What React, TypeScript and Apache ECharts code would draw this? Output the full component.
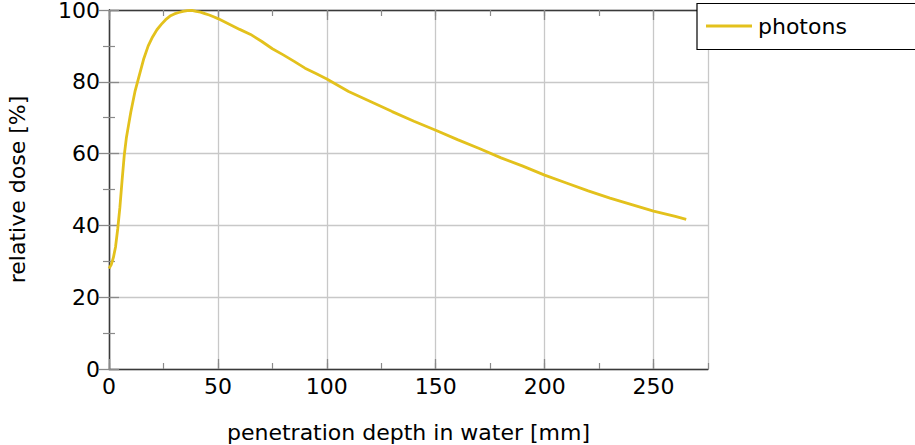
import React, { useEffect, useRef } from "react";
import * as echarts from "echarts";

const depth = [0, 1, 2, 3, 4, 5, 6, 7, 8, 9, 10, 12, 14, 16, 18, 20, 22, 24, 26, 28, 30, 32, 34, 36, 38, 40, 42, 44, 46, 48, 50, 55, 60, 65, 70, 75, 80, 85, 90, 95, 100, 110, 120, 130, 140, 150, 160, 170, 180, 190, 200, 210, 220, 230, 240, 250, 260, 265];
const dose = [28, 29, 31, 34, 39, 45, 52.5, 59.5, 64.5, 68, 71.5, 77.5, 82, 86.5, 90, 92.5, 94.5, 96, 97.3, 98.3, 98.9, 99.3, 99.6, 99.8, 99.9, 99.6, 99.4, 99.0, 98.6, 98.1, 97.6, 96.1, 94.6, 93.2, 91.3, 89.2, 87.5, 85.7, 83.8, 82.3, 80.8, 77.3, 74.5, 71.7, 69.0, 66.5, 63.9, 61.4, 58.8, 56.5, 54.0, 51.8, 49.6, 47.6, 45.8, 44.0, 42.5, 41.7];
const seriesName = "photons";
const xTitle = "penetration depth in water [mm]";
const yTitle = "relative dose [%]";

const FONT = "DejaVu Sans";
const AXIS_COLOR = "#3a3a3a";
const TICK_COLOR = "#8a8a8a";
const GRID_COLOR = "#c8c8c8";
const LINE_COLOR = "#E3C11C";

export default function App() {
  const ref = useRef<HTMLDivElement>(null);
  useEffect(() => {
    const chart = echarts.init(ref.current!, null, { renderer: "svg" });
    const base = { min: 0, max: 275, gridIndex: 0 };
    const hidden = { show: false };
    chart.setOption({
      animation: false,
      backgroundColor: "#fff",
      grid: { left: 109, top: 10, right: 207, bottom: 76, containLabel: false, outerBoundsMode: "none" },
      legend: {
        show: true,
        left: 706,
        top: 15,
        padding: 0,
        z: 200,
        icon: "rect",
        itemWidth: 46,
        itemHeight: 3,
        itemStyle: { color: LINE_COLOR },
        textStyle: { fontFamily: FONT, fontSize: 22, color: "#000", padding: [0, 0, 0, 1] },
        data: [seriesName],
      },
      graphic: [
        {
          type: "rect",
          z: 100,
          shape: { x: 697, y: 3.5, width: 260, height: 46 },
          style: { fill: "#fff", stroke: "#000", lineWidth: 1.2 },
        },
      ],
      xAxis: [
        {
          ...base,
          type: "value",
          position: "bottom",
          interval: 50,
          name: xTitle,
          nameLocation: "middle",
          nameGap: 52,
          nameTextStyle: { fontFamily: FONT, fontSize: 22, color: "#000" },
          axisLine: { show: true, lineStyle: { color: AXIS_COLOR, width: 1.3 } },
          axisTick: { show: true, inside: true, length: 10, lineStyle: { color: TICK_COLOR, width: 1.3 } },
          axisLabel: {
            show: true,
            margin: 6,
            showMaxLabel: false,
            fontFamily: FONT,
            fontSize: 22,
            color: "#000",
            formatter: (v: number) => (v % 50 === 0 ? String(v) : ""),
          },
          splitLine: { show: true, lineStyle: { color: GRID_COLOR, width: 1.3 } },
        },
        {
          ...base,
          type: "value",
          position: "bottom",
          interval: 25,
          axisLine: hidden,
          axisLabel: hidden,
          splitLine: hidden,
          axisTick: { show: true, inside: true, length: 6, lineStyle: { color: TICK_COLOR, width: 1.2 } },
        },
        {
          ...base,
          type: "value",
          position: "top",
          interval: 50,
          axisLine: { show: true, lineStyle: { color: AXIS_COLOR, width: 1.3 } },
          axisLabel: hidden,
          splitLine: hidden,
          axisTick: { show: true, inside: true, length: 10, lineStyle: { color: TICK_COLOR, width: 1.3 } },
        },
        {
          ...base,
          type: "value",
          position: "top",
          interval: 25,
          axisLine: hidden,
          axisLabel: hidden,
          splitLine: hidden,
          axisTick: { show: true, inside: true, length: 6, lineStyle: { color: TICK_COLOR, width: 1.2 } },
        },
      ],
      yAxis: [
        {
          type: "value",
          position: "left",
          min: 0,
          max: 100,
          interval: 20,
          name: yTitle,
          nameLocation: "middle",
          nameGap: 81,
          nameRotate: 90,
          nameTextStyle: { fontFamily: FONT, fontSize: 22, color: "#000" },
          axisLine: { show: true, lineStyle: { color: AXIS_COLOR, width: 1.3 } },
          axisTick: { show: true, inside: true, length: 10, lineStyle: { color: TICK_COLOR, width: 1.3 } },
          minorTick: { show: true, splitNumber: 2, length: 6, lineStyle: { color: TICK_COLOR, width: 1.2 } },
          axisLabel: { show: true, margin: 9, fontFamily: FONT, fontSize: 22, lineHeight: 18, color: "#000" },
          splitLine: { show: true, lineStyle: { color: GRID_COLOR, width: 1.3 } },
        },
        {
          type: "value",
          position: "right",
          min: 0,
          max: 100,
          interval: 20,
          axisLine: { show: true, lineStyle: { color: AXIS_COLOR, width: 1.3 } },
          axisTick: { show: true, inside: true, length: 10, lineStyle: { color: TICK_COLOR, width: 1.3 } },
          minorTick: { show: true, splitNumber: 2, length: 6, lineStyle: { color: TICK_COLOR, width: 1.2 } },
          axisLabel: hidden,
          splitLine: hidden,
        },
      ],
      series: [
        {
          name: seriesName,
          type: "line",
          xAxisIndex: 0,
          yAxisIndex: 0,
          symbol: "none",
          showSymbol: false,
          smooth: false,
          color: LINE_COLOR,
          lineStyle: { color: LINE_COLOR, width: 2.8 },
          data: depth.map((d, i) => [d, dose[i]]),
          z: 5,
        },
      ],
    });
    return () => chart.dispose();
  }, []);
  return (
    <div
      ref={ref}
      style={{ position: "fixed", left: 0, top: 0, width: 915, height: 445 }}
    />
  );
}
